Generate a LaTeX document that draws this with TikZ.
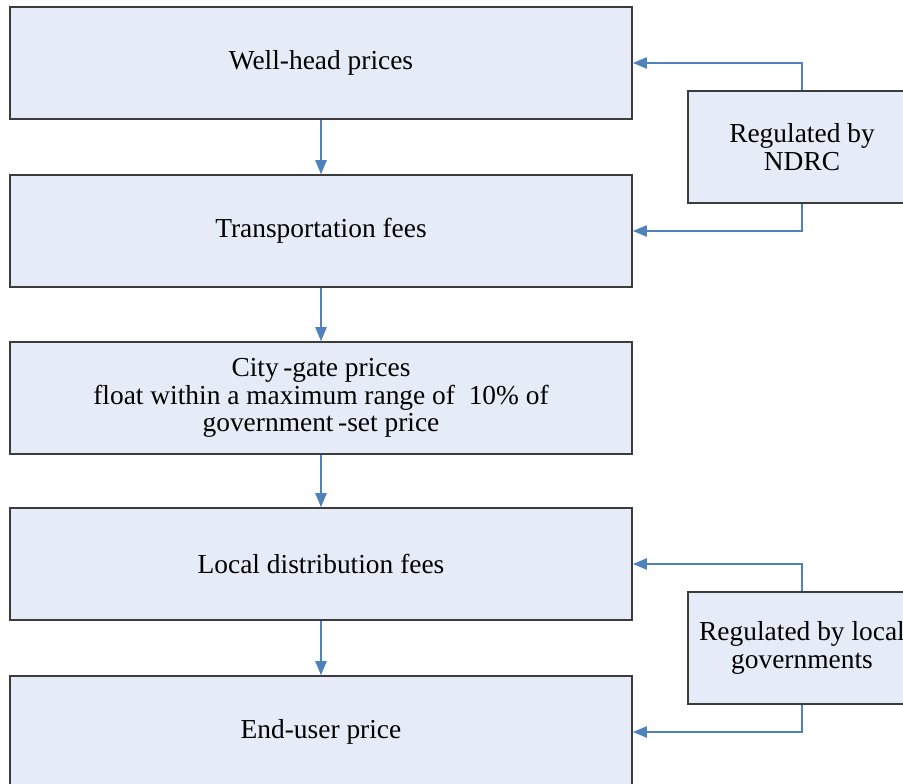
\documentclass[tikz,border=0pt]{standalone}
\usepackage{fontspec}
\setmainfont{Liberation Serif}
\usetikzlibrary{arrows.meta,positioning}
\definecolor{boxfill}{HTML}{E6ECF7}
\definecolor{boxline}{HTML}{3C3C3C}
\definecolor{flowline}{HTML}{4F81BD}
\tikzset{
  pricebox/.style={draw=boxline, fill=boxfill, line width=1.1pt,
    minimum width=15.55cm, minimum height=2.8cm, align=center,
    font=\fontsize{19.5}{19.6}\selectfont},
  rulebox/.style={pricebox, minimum width=5.7cm},
  flow/.style={draw=flowline, line width=1.2pt,
    -{Triangle[length=10pt,width=8pt]}}
}

\begin{document}
\begin{tikzpicture}[x=0.025cm, y=0.025cm]
    \useasboundingbox (0,0) rectangle (903,784);
    \clip (0,0) rectangle (903,784);

    % Price chain
    \node[pricebox] (wellhead) at (321,721) {Well-head prices};
    \node[pricebox] (transport) at (321,553) {Transportation fees};
    \node[pricebox] (citygate) at (321,386) {City\,-gate prices\\
      float within a maximum range of\ \ 10\% of\\ government\,-set price};
    \node[pricebox] (distrib) at (321,220) {Local distribution fees};
    \node[pricebox] (enduser) at (321,52) {End-user price};

    % Regulators
    \node[rulebox] (ndrc) at (802,637) {Regulated by\\ NDRC};
    \node[rulebox] (localgov) at (802,136) {Regulated by local\\ governments};

    % Arrows
    \draw[flow] (wellhead) -- (transport);
    \draw[flow] (transport) -- (citygate);
    \draw[flow] (citygate) -- (distrib);
    \draw[flow] (distrib) -- (enduser);

    \draw[flow] (ndrc.north) |- (wellhead.east);
    \draw[flow] (ndrc.south) |- (transport.east);
    \draw[flow] (localgov.north) |- (distrib.east);
    \draw[flow] (localgov.south) |- (enduser.east);
\end{tikzpicture}
\end{document}
